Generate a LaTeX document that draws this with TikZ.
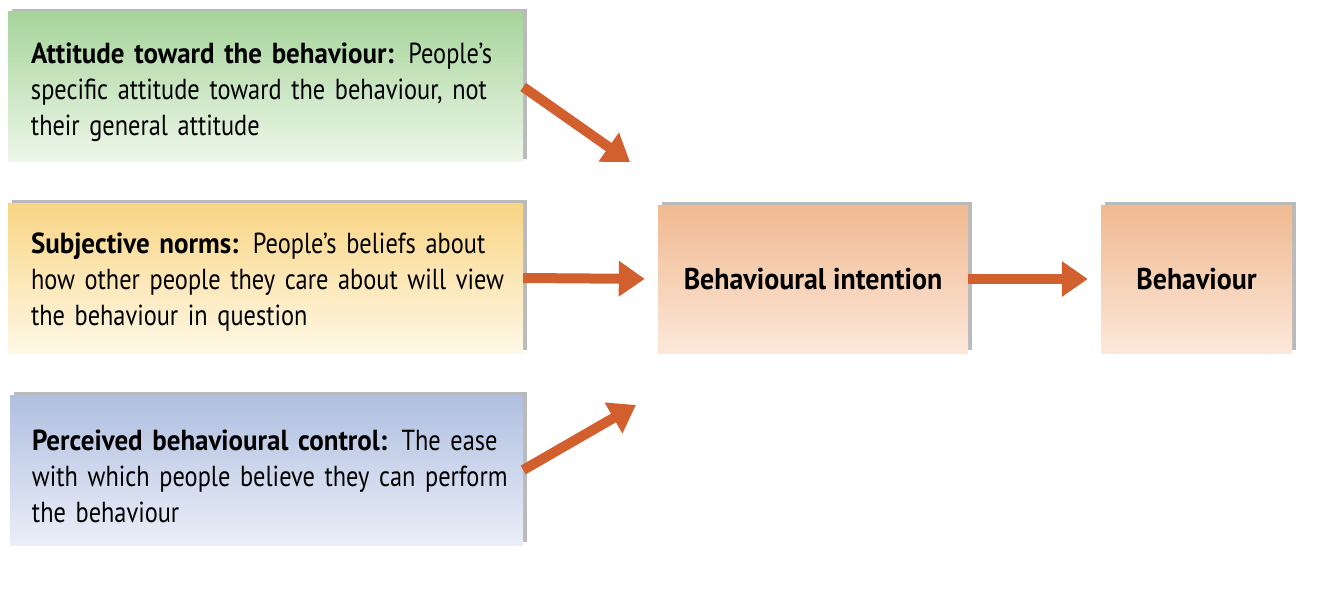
\documentclass[tikz,border=0pt]{standalone}
\usepackage{fontspec}
\setmainfont{PT Sans}[FakeStretch=0.84, BoldFeatures={FakeStretch=0.93}]
\usetikzlibrary{arrows.meta,shadows}
\hyphenpenalty=10000
\exhyphenpenalty=10000
\definecolor{arrc}{HTML}{D2602E}
\definecolor{gtop}{HTML}{A6D49A}
\definecolor{gbot}{HTML}{EEF7EA}
\definecolor{ytop}{HTML}{F8D585}
\definecolor{ybot}{HTML}{FFF8E6}
\definecolor{btop}{HTML}{B0BFE0}
\definecolor{bbot}{HTML}{EAEEF8}
\definecolor{otop}{HTML}{F0B990}
\definecolor{obot}{HTML}{FCE8DA}
\tikzset{
  box/.style={rectangle, inner sep=0pt,
    drop shadow={shadow xshift=4pt, shadow yshift=3pt, fill=black!45, opacity=0.6}},
  descbox/.style={box, font=\fontsize{29}{36}\selectfont,
    minimum width=515pt, minimum height=150pt, text width=469pt, align=left, text height=21pt},
  ibox/.style={box, font=\fontsize{30}{36}\selectfont, top color=otop, bottom color=obot, minimum height=148pt},
  arr/.style={draw=arrc, line width=10pt, -{Triangle[length=26pt,width=34pt]}}
}
\begin{document}
\begin{tikzpicture}[x=1pt,y=-1pt]
\useasboundingbox[fill=white] (0,0) rectangle (1340,596);
\node[descbox, top color=gtop, bottom color=gbot, text depth=67pt] (att) at (265.5,87)
  {\mbox{\textbf{Attitude toward the behaviour:} People’s}\\\mbox{specific attitude toward the behaviour, not}\\\mbox{their general attitude}};
\node[descbox, top color=ytop, bottom color=ybot, text depth=71pt] (sub) at (265.5,278)
  {\mbox{\textbf{Subjective norms:} People’s beliefs about}\\\mbox{how other people they care about will view}\\\mbox{the behaviour in question}};
\node[descbox, top color=btop, bottom color=bbot, minimum width=513pt, text depth=61pt] (pbc) at (266.5,470)
  {\mbox{\textbf{Perceived behavioural control:} The ease}\\\mbox{with which people believe they can perform}\\\mbox{the behaviour}};
\node[ibox, minimum width=310pt] (bi) at (813,279) {\textbf{Behavioural intention}};
\node[ibox, minimum width=191pt] (beh) at (1196.5,279) {\textbf{Behaviour}};
\coordinate (a1) at (630,162);
\coordinate (a3) at (636,405);
\draw[arr] (att.east) -- (a1);
\draw[arr, shorten >=13pt] (sub.east) -- (bi.west);
\draw[arr] (pbc.east) -- (a3);
\draw[arr, shorten >=13pt] (bi.east) -- (beh.west);
\end{tikzpicture}
\end{document}
